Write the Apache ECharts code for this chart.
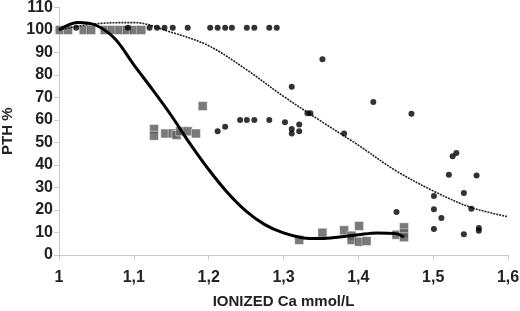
<!DOCTYPE html>
<html>
<head>
<meta charset="utf-8">
<script src="https://cdn.jsdelivr.net/npm/echarts@6/dist/echarts.min.js"></script>
<style>
  html, body { margin: 0; padding: 0; background: #fff; }
  #main { width: 520px; height: 311px; }
</style>
</head>
<body>
<div id="main"></div>
<script>
// tick labels
let xTickLabels = ['1', '1,1', '1,2', '1,3', '1,4', '1,5', '1,6'];

// grey squares
let squareX = [1.001, 1.012, 1.033, 1.043, 1.061, 1.071, 1.081, 1.091, 1.10, 1.11,
  1.127, 1.127, 1.142, 1.152, 1.157, 1.162, 1.172, 1.183, 1.192,
  1.321, 1.352, 1.381, 1.391, 1.391, 1.401, 1.401, 1.411, 1.451, 1.461, 1.461, 1.461];
let squareY = [100, 100, 100, 100, 100, 100, 100, 100, 100, 100,
  56, 53, 54, 54, 53.3, 55, 55, 54, 66.2,
  6.7, 9.9, 11, 8.6, 6.7, 12.9, 5.9, 6.2, 9, 12.3, 9.6, 7.9];

// black dots
let dotX = [1.023, 1.092, 1.121, 1.131, 1.141, 1.152, 1.172, 1.202, 1.212, 1.222, 1.231, 1.251, 1.261, 1.281, 1.291,
  1.212, 1.222, 1.242, 1.251, 1.261, 1.281,
  1.302, 1.311, 1.311, 1.321, 1.321, 1.332, 1.336, 1.311, 1.352, 1.381, 1.42, 1.471,
  1.526, 1.531, 1.521, 1.558, 1.541, 1.501, 1.501, 1.511, 1.551, 1.451, 1.501, 1.541, 1.561, 1.561];
let dotY = [101, 101, 101, 101, 101, 101, 101, 101, 101, 101, 101, 101, 101, 101, 101,
  55, 57, 60, 60, 60, 60,
  59, 56, 54, 58, 55, 63, 63, 74.8, 87, 54, 68, 62.8,
  43.9, 45.3, 35.7, 35.3, 27.6, 26.2, 20.3, 16.4, 20.6, 19.1, 11.6, 9.2, 12, 10.8];

// thick trend curve (squares)
let solidX = [1.0, 1.025, 1.05, 1.075, 1.1, 1.125, 1.15, 1.175, 1.2, 1.225, 1.25, 1.275, 1.3, 1.325, 1.35, 1.375, 1.4, 1.425, 1.45, 1.461];
let solidY = [100, 103.3, 102, 96, 84.5, 73.5, 62, 49.5, 38, 27.8, 19.5, 13.5, 9.8, 7.7, 7.3, 8, 9, 9.8, 9.5, 8];

// dotted trend curve (dots)
let dottedX = [1.0, 1.05, 1.1, 1.15, 1.2, 1.25, 1.3, 1.35, 1.4, 1.45, 1.5, 1.55, 1.6];
let dottedY = [100, 102.8, 103.3, 99, 93, 82.5, 70.5, 59.5, 48.8, 37.5, 28.5, 21.2, 17];

function pairs(xs, ys) {
  return xs.map(function (x, i) { return [x, ys[i]]; });
}

let myChart = echarts.init(document.getElementById('main'));
let fontFamily = 'Liberation Sans, Arial, sans-serif';
let tickFont = { color: '#222', fontWeight: 'bold', fontSize: 16, fontFamily: fontFamily };
let titleFont = { color: '#222', fontWeight: 'bold', fontSize: 15, fontFamily: fontFamily };

myChart.setOption({
  animation: false,
  backgroundColor: '#fff',
  grid: { left: 59, right: 12, top: 7.5, bottom: 56, containLabel: false, outerBoundsMode: 'none' },
  xAxis: {
    type: 'value',
    min: 1, max: 1.6, interval: 0.1,
    name: 'IONIZED Ca mmol/L',
    nameLocation: 'middle',
    nameGap: 39,
    nameTextStyle: titleFont,
    axisLine: { lineStyle: { color: '#c8c8c8' } },
    axisTick: { show: true, length: 5, lineStyle: { color: '#c8c8c8' } },
    splitLine: { show: false },
    axisLabel: Object.assign({}, tickFont, {
      margin: 15,
      formatter: function (v) { return xTickLabels[Math.round((v - 1) * 10)]; }
    })
  },
  yAxis: {
    type: 'value',
    min: 0, max: 110, interval: 10,
    name: 'PTH %',
    nameLocation: 'middle',
    nameGap: 36,
    nameTextStyle: titleFont,
    axisLine: { show: true, lineStyle: { color: '#c8c8c8' } },
    axisTick: { show: true, length: 5, lineStyle: { color: '#c8c8c8' } },
    splitLine: { show: false },
    axisLabel: Object.assign({}, tickFont, { margin: 6 })
  },
  series: [
    {
      type: 'line',
      data: pairs(dottedX, dottedY),
      smooth: 0.35,
      showSymbol: false,
      lineStyle: { color: '#222', width: 1.6, type: [2, 1] },
      z: 3
    },
    {
      type: 'line',
      data: pairs(solidX, solidY),
      smooth: 0.35,
      showSymbol: false,
      lineStyle: { color: '#000', width: 3 },
      z: 4
    },
    {
      type: 'scatter',
      data: pairs(squareX, squareY),
      symbol: 'rect',
      symbolSize: 9,
      itemStyle: { color: '#595959', borderColor: '#fff', borderWidth: 0.6 },
      z: 2
    },
    {
      type: 'scatter',
      data: pairs(dotX, dotY),
      symbol: 'circle',
      symbolSize: 6,
      itemStyle: { color: '#000' },
      z: 5
    }
  ]
});
</script>
</body>
</html>
